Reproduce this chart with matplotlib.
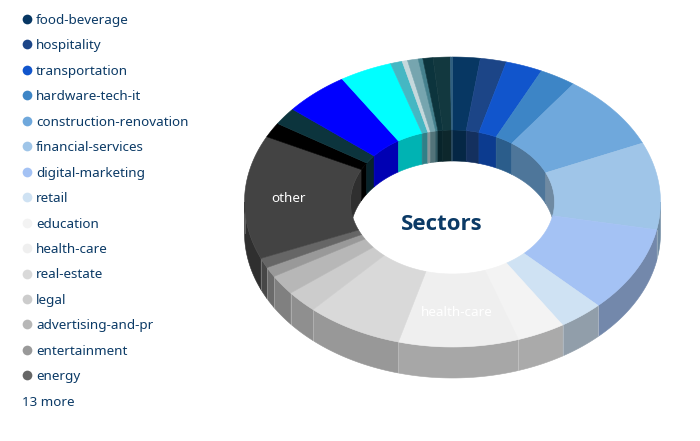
import numpy as np
import matplotlib
matplotlib.use("Agg")
import matplotlib.pyplot as plt
from matplotlib.colors import to_rgb

# legend entries (first 15 of 28 sectors)
legend_names = ["food-beverage", "hospitality", "transportation", "hardware-tech-it",
                "construction-renovation", "financial-services", "digital-marketing",
                "retail", "education", "health-care", "real-estate", "legal",
                "advertising-and-pr", "entertainment", "energy"]
more_label = "13 more"

# share of each slice in percent, clockwise from the top of the ring
shares = [2.14, 2.03, 2.86, 2.83, 8.47, 9.72, 9.58, 3.47, 3.75, 9.31, 7.5, 2.5, 2.22, 1.11, 1.11,
          13.78, 1.67, 1.94, 5.06, 4.08, 0.92, 0.42, 0.83, 0.36, 0.78, 1.33, 0.17]
colors = ["#073763", "#1c4587", "#1155cc", "#3d85c6", "#6fa8dc", "#9fc5e8", "#a4c2f4",
          "#cfe2f3", "#f3f3f3", "#efefef", "#d9d9d9", "#cccccc", "#b7b7b7", "#999999",
          "#666666", "#434343", "#000000", "#0c343d", "#0000ff", "#00ffff", "#45b7c3",
          "#c5d8dc", "#76a5af", "#45818e", "#0c343d", "#12383f", "#2f5f80"]

TEXT = "#0b3a66"
cx, cy = 452.5, 202
rx, ry = 208, 145
irx, iry = 102, 72
depth = 31

plt.rcParams["font.family"] = ["Noto Sans", "DejaVu Sans"]


def arc(a0, a1, w, h, dy=0):
    t = np.radians(np.linspace(a0, a1, max(int(abs(a1 - a0) * 2), 2)))
    return cx + w * np.sin(t), cy - h * np.cos(t) + dy


def shade(c, f=0.7):
    return tuple(v * f for v in to_rgb(c))


fig = plt.figure(figsize=(7, 4.41), dpi=100)
ax = fig.add_axes([0, 0, 1, 1])
ax.set_xlim(0, 700)
ax.set_ylim(441, 0)
ax.axis("off")

edges = np.concatenate([[0], np.cumsum(shares)])
edges = edges / edges[-1] * 360

# outer wall, only the front half shows
for a0, a1, c in zip(edges[:-1], edges[1:], colors):
    lo, hi = max(a0, 90), min(a1, 270)
    if hi <= lo:
        continue
    x, y = arc(lo, hi, rx, ry)
    x2, y2 = arc(hi, lo, rx, ry, depth)
    ax.fill(np.r_[x, x2], np.r_[y, y2], color=shade(c), lw=0.4, zorder=1)
    # faint seam between wall pieces
    sx, sy = arc(hi, hi, rx, ry)
    ax.plot([sx[0], sx[0]], [sy[0], sy[0] + depth], color="white", alpha=0.3, lw=0.6, zorder=1.5)

# inner wall, only the back half shows through the hole
for a0, a1, c in zip(edges[:-1], edges[1:], colors):
    for lo, hi in [(a0, min(a1, 90)), (max(a0, 270), a1)]:
        if hi <= lo:
            continue
        x, y = arc(lo, hi, irx, iry)
        x2, y2 = arc(hi, lo, irx, iry, depth)
        ax.fill(np.r_[x, x2], np.r_[y, y2], color=shade(c), lw=0.4, zorder=2)

# top of the ring
for a0, a1, c in zip(edges[:-1], edges[1:], colors):
    x, y = arc(a0, a1, rx, ry)
    x2, y2 = arc(a1, a0, irx, iry)
    ax.fill(np.r_[x, x2], np.r_[y, y2], color=c, lw=0.4, zorder=3)

ax.text(441.5, 225, "Sectors", color=TEXT, fontsize=16, fontweight="bold", family="Open Sans",
        ha="center", va="center", zorder=5)
ax.text(288, 199, "other", color="white", fontsize=9.7, ha="center", va="center", zorder=5)
ax.text(457, 312, "health-care", color="white", fontsize=9.7, ha="center", va="center", zorder=5)

for i, name in enumerate(legend_names):
    y = 19 + 25.45 * i
    ax.plot(27, y, "o", ms=7, color=colors[i], mew=0, zorder=5)
    ax.text(36, y + 1.5, name, color=TEXT, fontsize=9.7, va="center", zorder=5)
ax.text(22, 402, more_label, color=TEXT, fontsize=9.7, va="center", zorder=5)

fig.savefig("out.png", dpi=100)
